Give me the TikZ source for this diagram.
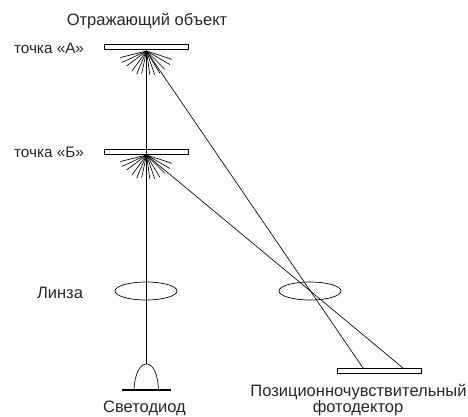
\documentclass[tikz,border=0pt]{standalone}
\usepackage{fontspec}
\setmainfont{Liberation Sans}
\usetikzlibrary{shapes.geometric}
\tikzset{
  plate/.style={draw,rectangle,inner sep=0pt,minimum width=84pt,minimum height=5.5pt,line width=0.9pt},
  lens/.style={draw,ellipse,inner sep=0pt,minimum width=62pt,minimum height=18pt,line width=0.7pt},
  caption/.style={font=\fontsize{16.5}{20}\selectfont,text=black!85,inner sep=0pt},
  smallcaption/.style={font=\fontsize{15.3}{20}\selectfont,text=black!85,inner sep=0pt},
  ray/.style={line width=0.65pt}
}
\newcommand{\scatterfan}[1]{
  \foreach \ang/\len in {194/27,205/27,217/25,234/25,247/25,258/23,-18/27,-30/27,-45/26,-59/26,-71/25,-82/24}
    \draw[ray] (#1) -- ++(\ang:\len pt);
}
\begin{document}
\begin{tikzpicture}[x=1pt,y=-1pt]
  \useasboundingbox (0,0) rectangle (468,416);
  \node[plate] (plateA) at (146,47) {};
  \node[plate] (plateB) at (146,152) {};
  \node[plate] (detector) at (379.5,371) {};
  \node[lens] (lens1) at (146,291) {};
  \node[lens] (lens2) at (310,291) {};
  \coordinate (A) at (146.5,51);
  \coordinate (B) at (146.5,155);
  \coordinate (hitA) at (363,368);
  \coordinate (hitB) at (403,368);
  \coordinate (top) at (146.5,364);
  \coordinate (domeL) at (134,390);
  \coordinate (domeR) at (158.5,390);
  \coordinate (baseL) at (122,390);
  \coordinate (baseR) at (171,390);
  \scatterfan{A}
  \scatterfan{B}
  \draw[ray] (A) -- (top);
  \draw[ray] (A) -- (hitA);
  \draw[ray] (B) -- (hitB);
  \draw[ray] (domeL) .. controls (134.5,375) and (139.5,364) .. (top) .. controls (153.5,364) and (158,375) .. (domeR);
  \draw[line width=1.4pt] (baseL) -- (baseR);
  \node[caption] (object) at (147,21) {Отражающий объект};
  \node[smallcaption] (labelA) at (49,48) {точка «А»};
  \node[smallcaption] (labelB) at (49,152) {точка «Б»};
  \node[caption] (labelL) at (60,293) {Линза};
  \node[caption] (labelD) at (144.5,408) {Светодиод};
  \node[caption] (labelP) at (358.5,392.5) {Позиционночувствительный};
  \node[caption] (labelF) at (358,408.5) {фотодектор};
\end{tikzpicture}
\end{document}
